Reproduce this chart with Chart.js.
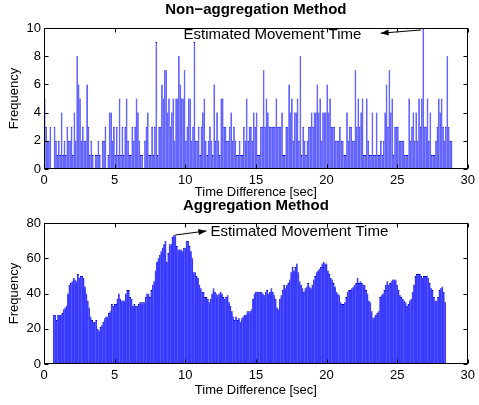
<!DOCTYPE html>
<html>
<head>
<meta charset="utf-8">
<script src="https://cdn.jsdelivr.net/npm/chart.js@4.4.1/dist/chart.umd.min.js"></script>
<style>
  body { margin: 0; background: #fff; }
  #wrap { position: relative; width: 479px; height: 405px; }
  canvas { position: absolute; left: 0; }
  #top { top: 0; }
  #bottom { top: 200px; }
</style>
</head>
<body>
<div id="wrap">
  <canvas id="top" width="479" height="200"></canvas>
  <canvas id="bottom" width="479" height="205"></canvas>
</div>
<script>
// bin width in seconds
const binWidth = 0.1;

// non-aggregation histogram, bins 0.0 .. 28.8 sec
const topStart = 0.05;
const topCounts = [
  5,3,2,2,3,0,0,3,2,1,
  2,1,4,1,2,1,3,2,2,3,
  1,4,2,8,6,5,2,3,2,2,
  6,3,1,2,1,0,1,1,2,1,
  0,2,2,3,0,1,4,4,2,3,
  1,3,1,5,1,3,1,3,5,2,
  1,1,3,2,3,5,4,2,1,1,
  0,2,3,4,1,1,3,1,3,9,
  1,3,3,6,5,7,7,4,5,3,
  4,5,2,5,5,8,6,5,5,7,
  2,3,5,5,2,3,9,2,2,3,
  1,3,4,5,2,1,2,3,2,1,
  6,2,4,2,1,5,5,3,3,2,
  2,3,4,2,3,2,1,1,2,1,
  1,3,2,5,2,3,3,2,4,3,
  4,1,1,3,3,7,3,5,4,3,
  3,3,3,3,5,3,3,3,4,1,
  1,3,3,6,4,5,2,4,4,5,
  2,8,1,3,2,1,2,3,3,4,
  3,4,4,6,4,5,2,4,4,4,
  6,4,5,3,3,3,2,2,2,3,
  2,2,1,1,4,2,3,3,2,2,
  7,3,5,3,4,5,1,1,5,2,
  1,1,4,1,1,4,1,1,2,1,
  2,4,6,3,7,4,5,1,3,3,
  3,2,2,2,2,1,1,1,5,2,
  3,4,2,4,2,5,3,5,10,3,
  3,5,2,4,1,1,1,2,3,5,
  4,5,3,2,3,8,3,2,2
];

// aggregation histogram, bins 0.7 .. 28.4 sec
const bottomStart = 0.7;
const bottomCounts = [
  28,28,25,
  28,28,28,29,31,32,33,40,45,46,
  47,49,48,47,51,49,50,50,49,44,
  40,36,32,27,25,24,24,25,20,19,
  21,22,24,26,27,27,29,30,34,33,
  34,34,37,40,37,36,36,36,40,42,
  42,38,37,33,34,33,33,34,35,35,
  35,35,38,40,40,38,42,45,47,53,
  58,60,62,64,66,68,70,58,63,68,
  68,72,73,73,67,65,65,65,64,66,
  66,70,70,67,64,60,52,52,50,49,
  45,43,41,41,38,38,37,35,37,40,
  43,41,40,39,40,41,40,38,37,38,
  39,35,33,30,27,25,27,25,26,24,
  26,27,28,28,30,30,30,31,37,40,
  41,41,41,41,41,40,39,41,42,40,
  41,43,41,39,37,32,31,37,39,42,
  45,43,45,46,48,52,55,53,55,57,
  52,47,45,43,41,43,44,46,44,43,
  45,48,50,52,53,54,55,57,58,57,
  57,53,51,49,48,46,44,41,40,39,
  35,34,34,35,38,41,42,42,43,44,
  45,46,49,46,47,46,45,45,42,40,
  36,35,30,26,27,28,29,30,38,39,
  40,42,45,47,45,46,47,48,48,48,
  45,42,39,38,37,36,35,33,34,36,
  37,41,45,50,51,51,51,50,49,50,
  50,50,49,46,43,42,38,36,36,38,
  42,43,44,41,35
];

const xTicks = [0, 5, 10, 15, 20, 25, 30];
const topYTicks = [0, 2, 4, 6, 8, 10];
const bottomYTicks = [0, 20, 40, 60, 80];

const annoText = 'Estimated Movement Time';

const font = 'Liberation Sans, Arial, Helvetica, sans-serif';

function toPoints(start, counts) {
  return counts.map((c, i) => ({ x: +(start + i * binWidth).toFixed(2), y: c }));
}

// box round the plot with inward ticks, plus the title
const boxPlugin = {
  id: 'box',
  afterDatasetsDraw(chart, args, opts) {
    const { ctx, chartArea: a, scales } = chart;
    const l = Math.round(a.left) + 0.5, r = Math.round(a.right) - 0.5;
    const t = Math.round(a.top) + 0.5, b = Math.round(a.bottom) - 0.5;
    ctx.save();
    ctx.strokeStyle = '#000';
    ctx.lineWidth = 1;
    ctx.strokeRect(l, t, r - l, b - t);
    ctx.beginPath();
    scales.x.ticks.forEach(tk => {
      const px = Math.round(scales.x.getPixelForValue(tk.value)) + 0.5;
      ctx.moveTo(px, b); ctx.lineTo(px, b - 4);
      ctx.moveTo(px, t); ctx.lineTo(px, t + 4);
    });
    scales.y.ticks.forEach(tk => {
      const py = Math.round(scales.y.getPixelForValue(tk.value)) + 0.5;
      ctx.moveTo(l, py); ctx.lineTo(l + 4, py);
      ctx.moveTo(r, py); ctx.lineTo(r - 4, py);
    });
    ctx.stroke();
    ctx.fillStyle = '#000';
    ctx.font = 'bold 15px ' + font;
    ctx.textAlign = 'center';
    ctx.textBaseline = 'middle';
    ctx.fillText(opts.title, (a.left + a.right) / 2, opts.titleY);
    ctx.restore();
  }
};

// text with an arrow, placed in data coordinates
const arrowPlugin = {
  id: 'arrowNote',
  afterDraw(chart, args, opts) {
    const { ctx, scales: { x, y } } = chart;
    const tx = x.getPixelForValue(opts.text[0]), ty = y.getPixelForValue(opts.text[1]);
    const x0 = x.getPixelForValue(opts.from[0]), y0 = y.getPixelForValue(opts.from[1]);
    const x1 = x.getPixelForValue(opts.to[0]), y1 = y.getPixelForValue(opts.to[1]);
    ctx.save();
    ctx.fillStyle = '#000';
    ctx.strokeStyle = '#000';
    ctx.font = '15px ' + font;
    ctx.textAlign = 'left';
    ctx.textBaseline = 'middle';
    ctx.fillText(annoText, tx, ty);
    ctx.lineWidth = 1;
    ctx.beginPath();
    ctx.moveTo(x0, y0); ctx.lineTo(x1, y1);
    ctx.stroke();
    const ang = Math.atan2(y1 - y0, x1 - x0);
    ctx.beginPath();
    ctx.moveTo(x1, y1);
    ctx.lineTo(x1 - 8 * Math.cos(ang) + 3 * Math.sin(ang), y1 - 8 * Math.sin(ang) - 3 * Math.cos(ang));
    ctx.lineTo(x1 - 8 * Math.cos(ang) - 3 * Math.sin(ang), y1 - 8 * Math.sin(ang) + 3 * Math.cos(ang));
    ctx.closePath();
    ctx.fill();
    ctx.restore();
  }
};

function makeChart(el, cfg) {
  return new Chart(el, {
    type: 'bar',
    data: {
      datasets: [{
        data: cfg.points,
        backgroundColor: cfg.fill,
        borderColor: cfg.edge,
        borderWidth: { top: 1, left: 0, right: 0, bottom: 0 },
        barPercentage: cfg.barPct,
        categoryPercentage: 1
      }]
    },
    options: {
      responsive: false,
      animation: false,
      layout: { padding: { top: cfg.top, right: 7, left: 0, bottom: 0 } },
      plugins: {
        legend: { display: false },
        tooltip: { enabled: false },
        box: { title: cfg.title, titleY: cfg.titleY },
        arrowNote: cfg.note
      },
      scales: {
        x: {
          type: 'linear',
          offset: false,
          min: 0, max: 30,
          afterBuildTicks: s => { s.ticks = xTicks.map(v => ({ value: v })); },
          afterFit: s => { s.height = cfg.xHeight; },
          grid: { display: false, drawTicks: false },
          border: { display: false },
          ticks: { color: '#000', font: { family: font, size: 13 }, padding: 4, maxRotation: 0 },
          title: {
            display: true, text: 'Time Difference [sec]', color: '#000',
            font: { family: font, size: 13 }, padding: { top: 0, bottom: cfg.xTitlePad }
          }
        },
        y: {
          min: 0, max: cfg.yMax,
          afterBuildTicks: s => { s.ticks = cfg.yTicks.map(v => ({ value: v })); },
          afterFit: s => { s.width = 44; },
          grid: { display: false, drawTicks: false },
          border: { display: false },
          ticks: { color: '#000', font: { family: font, size: 13 }, padding: 3 },
          title: {
            display: true, text: 'Frequency', color: '#000',
            font: { family: font, size: 13 }, padding: { top: 7, bottom: 0 }
          }
        }
      }
    },
    plugins: [boxPlugin, arrowPlugin]
  });
}

makeChart(document.getElementById('top'), {
  points: toPoints(topStart, topCounts),
  fill: '#6464ff',
  edge: '#0000f0',
  barPct: 1.3,
  top: 28,
  xHeight: 31,
  xTitlePad: 0,
  yMax: 10,
  yTicks: topYTicks,
  title: 'Non\u2212aggregation Method',
  titleY: 10,
  note: { text: [9.88, 9.5], from: [26.7, 9.86], to: [23.83, 9.63] }
});

makeChart(document.getElementById('bottom'), {
  points: toPoints(bottomStart, bottomCounts),
  fill: '#3a3aff',
  edge: '#0000c8',
  barPct: 1.4,
  top: 23,
  xHeight: 41,
  xTitlePad: 7,
  yMax: 80,
  yTicks: bottomYTicks,
  title: 'Aggregation Method',
  titleY: 6,
  note: { text: [11.78, 75.1], from: [9.3, 73.2], to: [11.5, 75.5] }
});
</script>
</body>
</html>
